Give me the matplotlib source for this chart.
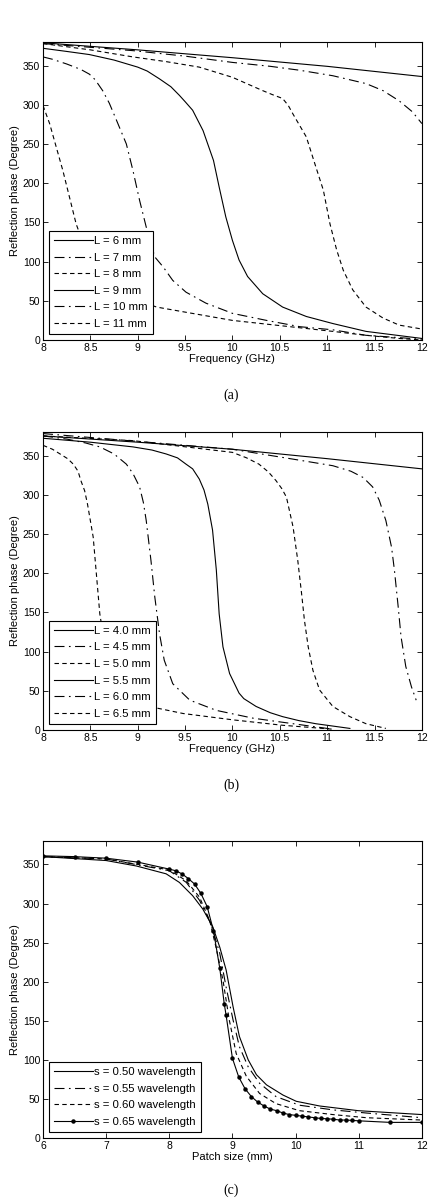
import matplotlib.pyplot as plt
from matplotlib.ticker import FormatStrFormatter

plt.rcParams['font.family'] = ['Liberation Sans', 'DejaVu Sans']
plt.rcParams['font.size'] = 7.5

# ---- panel (a): reflection phase vs frequency, L = 6..11 mm ----
a_labels = ["L = 6 mm", "L = 7 mm", "L = 8 mm", "L = 9 mm", "L = 10 mm", "L = 11 mm"]
a_x = [
    [8, 9, 10, 11, 12],
    [8, 8.95, 9.5, 10, 10.4, 10.71, 11.06, 11.41, 11.59, 11.76, 11.9, 12],
    [8, 8.5, 8.95, 9.3, 9.65, 10, 10.15, 10.32, 10.42, 10.53, 10.59, 10.64, 10.78, 10.88,
     10.96, 11.03, 11.1, 11.17, 11.27, 11.41, 11.59, 11.76, 12],
    [8, 8.25, 8.49, 8.75, 9.0, 9.1, 9.23, 9.35, 9.44, 9.5, 9.58, 9.69, 9.8, 9.86, 9.93,
     10.0, 10.07, 10.16, 10.32, 10.53, 10.78, 11.06, 11.41, 12],
    [8, 8.1, 8.25, 8.4, 8.49, 8.55, 8.63, 8.7, 8.77, 8.88, 8.95, 9.02, 9.09, 9.18, 9.27,
     9.37, 9.51, 9.72, 10, 10.36, 10.71, 11.06, 11.41, 12],
    [8, 8.07, 8.14, 8.21, 8.28, 8.35, 8.45, 8.55, 8.7, 8.9, 9.2, 9.48, 10, 10.53, 11.06,
     11.41, 11.76, 12],
]
a_y = [
    [379, 370, 360, 349, 336],
    [378, 369, 362, 354, 349, 344, 337, 327, 318, 305, 291, 276],
    [378, 370, 361, 355, 348, 335, 327, 318, 313, 308, 299, 288, 259, 221, 191, 148, 115,
     89, 64, 42, 28, 19, 14],
    [372, 368, 364, 357, 348, 343, 333, 323, 312, 304, 293, 267, 229, 195, 157, 127, 102,
     81, 59, 42, 30, 21, 11, 2],
    [361, 358, 352, 345, 339, 332, 318, 302, 282, 250, 216, 178, 144, 106, 93, 76, 61, 47,
     34, 25, 17, 13, 6, 1],
    [299, 276, 246, 216, 182, 148, 115, 90, 70, 55, 42, 36, 25, 18, 11, 6, 2, 0],
]

# ---- panel (b): L = 4.0..6.5 mm ----
b_labels = ["L = 4.0 mm", "L = 4.5 mm", "L = 5.0 mm", "L = 5.5 mm", "L = 6.0 mm", "L = 6.5 mm"]
b_x = [
    [8, 9, 10, 11, 12],
    [8, 10, 10.71, 11.06, 11.25, 11.38, 11.48, 11.55, 11.62, 11.68, 11.71, 11.75, 11.78,
     11.83, 11.89, 11.94],
    [8, 8.95, 10, 10.15, 10.28, 10.38, 10.46, 10.52, 10.57, 10.64, 10.69, 10.73, 10.76,
     10.8, 10.85, 10.92, 11.06, 11.24, 11.41, 11.62],
    [8, 8.5, 8.95, 9.15, 9.3, 9.42, 9.51, 9.58, 9.65, 9.7, 9.74, 9.79, 9.83, 9.86, 9.9,
     9.97, 10.07, 10.12, 10.25, 10.4, 10.53, 10.7, 10.88, 11.24],
    [8, 8.25, 8.45, 8.6, 8.75, 8.88, 8.95, 9.02, 9.06, 9.09, 9.14, 9.18, 9.23, 9.28, 9.37,
     9.55, 9.83, 10.22, 10.64, 11.06],
    [8, 8.1, 8.18, 8.26, 8.32, 8.37, 8.4, 8.44, 8.47, 8.53, 8.56, 8.6, 8.65, 8.72, 8.82,
     8.95, 9.16, 9.48, 10, 10.53, 11.06],
]
b_y = [
    [375, 367, 358, 346, 333],
    [378, 358, 344, 337, 330, 322, 310, 293, 267, 233, 204, 157, 119, 81, 55, 38],
    [375, 369, 354, 347, 339, 329, 318, 308, 297, 259, 216, 174, 140, 106, 76, 51, 30, 17,
     8, 2],
    [372, 367, 361, 357, 352, 347, 339, 333, 320, 306, 288, 255, 204, 148, 106, 72, 47, 40,
     30, 22, 17, 12, 8, 2],
    [375, 371, 366, 361, 352, 339, 327, 310, 290, 267, 216, 170, 123, 89, 59, 38, 25, 15,
     8, 1],
    [363, 358, 352, 346, 339, 330, 318, 305, 288, 246, 204, 148, 110, 75, 50, 37, 29, 21,
     13, 6, 1],
]

# ---- panel (c): reflection phase vs patch size ----
c_labels = ["s = 0.50 wavelength", "s = 0.55 wavelength",
            "s = 0.60 wavelength", "s = 0.65 wavelength"]
c_x = [
    [6, 7, 7.48, 7.95, 8.16, 8.37, 8.53, 8.69, 8.8, 8.9, 9.01, 9.11, 9.25, 9.38, 9.54,
     9.8, 10.01, 10.38, 10.99, 12],
    [6, 7, 8, 8.27, 8.48, 8.66, 8.8, 8.9, 9.01, 9.11, 9.25, 9.43, 9.69, 10.06, 10.59,
     11.12, 12],
    [6, 7, 8, 8.27, 8.48, 8.64, 8.74, 8.85, 8.95, 9.06, 9.22, 9.43, 9.69, 10.06, 10.59,
     11.12, 12],
    [6, 6.5, 7, 7.5, 8, 8.1, 8.2, 8.3, 8.4, 8.5, 8.6, 8.7, 8.8, 8.87, 8.9, 9.0, 9.1, 9.2,
     9.3, 9.4, 9.5, 9.6, 9.7, 9.8, 9.9, 10.0, 10.1, 10.2, 10.3, 10.4, 10.5, 10.6, 10.7,
     10.8, 10.9, 11.0, 11.5, 12],
]
c_y = [
    [360, 355, 348, 338, 327, 310, 293, 270, 244, 215, 168, 130, 100, 81, 68, 55, 47, 41,
     35, 30],
    [360, 357, 342, 327, 304, 274, 236, 193, 151, 117, 91, 70, 53, 42, 36, 32, 26],
    [360, 357, 343, 329, 308, 278, 244, 202, 151, 108, 79, 57, 44, 35, 30, 26, 23],
    [361, 360, 358, 353, 344, 342, 338, 332, 325, 313, 296, 265, 217, 172, 157, 102, 78,
     63, 53, 46, 41, 37, 35, 32, 30, 29, 28, 27, 26, 25, 24.6, 24, 23, 23, 22.5, 22, 20,
     20],
]

freq_ticks = [8, 8.5, 9, 9.5, 10, 10.5, 11, 11.5, 12]
size_ticks = [6, 7, 8, 9, 10, 11, 12]
phase_ticks = [0, 50, 100, 150, 200, 250, 300, 350]

solid = '-'
dashdot = (0, (9, 4, 1.5, 4))
dashed = (0, (4, 3))
ab_styles = [solid, dashdot, dashed, solid, dashdot, dashed]
c_styles = [solid, dashdot, dashed, solid]

fig = plt.figure(figsize=(4.36, 12.04), dpi=100)
ax_a = fig.add_axes([0.0986, 0.7176, 0.869, 0.2475])
ax_b = fig.add_axes([0.0986, 0.3937, 0.869, 0.2475])
ax_c = fig.add_axes([0.0986, 0.0548, 0.869, 0.2467])


def style_axes(ax, xticks, xlabel):
    ax.set_xticks(xticks)
    ax.set_yticks(phase_ticks)
    ax.set_xlim(xticks[0], xticks[-1])
    ax.set_ylim(0, 380)
    ax.xaxis.set_major_formatter(FormatStrFormatter('%g'))
    ax.tick_params(direction='in', top=True, right=True, length=3.5, width=0.6,
                   pad=2, labelsize=7.5)
    for sp in ax.spines.values():
        sp.set_linewidth(0.8)
    ax.set_xlabel(xlabel, fontsize=8, labelpad=1)
    ax.set_ylabel("Reflection phase (Degree)", fontsize=8, labelpad=2)


def add_legend(ax):
    leg = ax.legend(loc='lower left', bbox_to_anchor=(0.015, 0.02), fontsize=8.2,
                    frameon=True, fancybox=False, edgecolor='black', framealpha=1,
                    handlelength=3.4, handletextpad=0.15, labelspacing=0.58,
                    borderpad=0.45, borderaxespad=0)
    leg.get_frame().set_linewidth(0.8)


for xs, ys, ls, lab in zip(a_x, a_y, ab_styles, a_labels):
    ax_a.plot(xs, ys, color='black', lw=0.8, linestyle=ls, label=lab)
style_axes(ax_a, freq_ticks, "Frequency (GHz)")
add_legend(ax_a)

for xs, ys, ls, lab in zip(b_x, b_y, ab_styles, b_labels):
    ax_b.plot(xs, ys, color='black', lw=0.8, linestyle=ls, label=lab)
style_axes(ax_b, freq_ticks, "Frequency (GHz)")
add_legend(ax_b)

for i, (xs, ys, ls, lab) in enumerate(zip(c_x, c_y, c_styles, c_labels)):
    if i == 3:
        ax_c.plot(xs, ys, color='black', lw=0.8, linestyle=ls, marker='o',
                  markersize=2.2, label=lab)
    else:
        ax_c.plot(xs, ys, color='black', lw=0.8, linestyle=ls, label=lab)
style_axes(ax_c, size_ticks, "Patch size (mm)")
add_legend(ax_c)

for ypos, txt in [(0.672, "(a)"), (0.348, "(b)"), (0.0116, "(c)")]:
    fig.text(0.53, ypos, txt, ha='center', va='center', fontsize=10,
             family=['Liberation Serif', 'DejaVu Serif'])

fig.savefig("out.png", dpi=100)
